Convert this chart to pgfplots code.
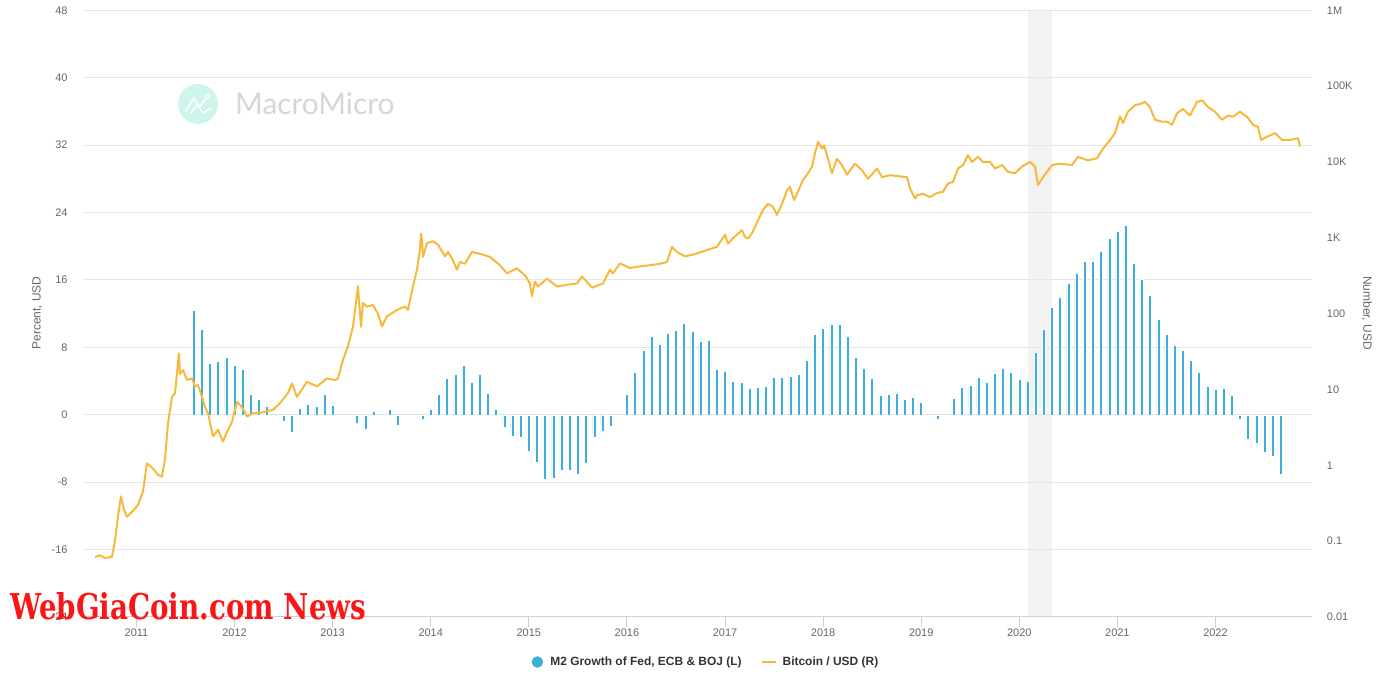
\documentclass[border=0pt]{standalone}
\usepackage{fontspec}
\setmainfont{Liberation Sans}
\newfontfamily\wmfont{Lato}
\newfontfamily\redfont[FakeStretch=0.78]{DejaVu Serif}
\usepackage{pgfplots}
\pgfplotsset{compat=1.18}

\definecolor{m2blue}{RGB}{59,174,218}
\definecolor{btc}{RGB}{246,185,59}
\definecolor{gridc}{RGB}{230,230,230}
\definecolor{axisc}{RGB}{208,208,208}
\definecolor{tickc}{RGB}{102,102,102}
\definecolor{legc}{RGB}{51,51,51}
\definecolor{bandc}{RGB}{242,242,242}
\definecolor{mmteal}{RGB}{205,245,236}
\definecolor{mmgray}{RGB}{214,214,214}
\definecolor{wgcred}{RGB}{250,22,22}

\pgfplotsset{
  base/.style={
    scale only axis, width=1228.7bp, height=606.7bp,
    at={(83bp,73bp)}, anchor=south west,
    xmin=2010.455, xmax=2022.981,
  },
}

\begin{document}
\begin{tikzpicture}
\useasboundingbox (0,0) rectangle (1400bp,690bp);

% watermark logo
\fill[mmteal] (198bp,586bp) circle (20bp);
\draw[white, line width=1.6bp, line join=round, line cap=round]
  (186bp,579bp) -- (194bp,592bp) -- (200bp,583bp) -- (206bp,592bp);
\draw[white, line width=1.6bp, line join=round, line cap=round]
  (191bp,577bp) -- (197bp,585bp) -- (203bp,577bp) -- (211bp,582bp);
\draw[white, line width=1.2bp] (207.5bp,593.5bp) circle (2bp);
\node[anchor=west, inner sep=0pt, text=mmgray, font=\wmfont\fontsize{30}{32}\selectfont]
  at (235bp,586bp) {MacroMicro};

% recession band
\begin{axis}[base, hide axis, ymin=-24, ymax=48]
\fill[bandc] (axis cs:2020.085,-24) rectangle (axis cs:2020.33,48);
\end{axis}

% M2 growth, left axis
\begin{axis}[base,
  ymin=-24, ymax=48,
  ytick={-24,-16,-8,0,8,16,24,32,40,48},
  yticklabels={-24,-16,-8,0,8,16,24,32,40,48},
  xtick={2011,2012,2013,2014,2015,2016,2017,2018,2019,2020,2021,2022},
  xticklabels={2011,2012,2013,2014,2015,2016,2017,2018,2019,2020,2021,2022},
  axis x line*=bottom, axis y line*=left,
  x axis line style={draw=axisc, line width=1bp, -},
  y axis line style={draw=none},
  ymajorgrids, grid style={draw=gridc, line width=1bp},
  xtick style={draw=axisc, line width=1bp},
  ytick style={draw=none},
  major tick length=10bp, tick align=outside,
  ticklabel style={font=\fontsize{11}{13}\selectfont, text=tickc},
  yticklabel style={anchor=east, inner sep=0pt, xshift=-5.3bp},
  xticklabel style={anchor=north, inner sep=0pt, yshift=-2bp},
]
\addplot[ybar, bar width=3bp, fill=m2blue, draw=white, line width=0.5bp] coordinates {
(2011.583,12.4)(2011.667,10.1)(2011.75,6.1)(2011.833,6.4)(2011.917,6.8)
(2012.0,5.9)(2012.083,5.4)(2012.167,2.4)(2012.25,1.9)(2012.333,1.0)(2012.417,0)
(2012.5,-0.8)(2012.583,-2.1)(2012.667,0.8)(2012.75,1.3)(2012.833,1.0)(2012.917,2.4)
(2013.0,1.1)(2013.083,0)(2013.167,-0.2)(2013.25,-1.0)(2013.333,-1.7)(2013.417,0.4)
(2013.5,0)(2013.583,0.6)(2013.667,-1.2)(2013.75,0)(2013.833,0)(2013.917,-0.5)
(2014.0,0.6)(2014.083,2.4)(2014.167,4.3)(2014.25,4.8)(2014.333,5.9)(2014.417,3.8)
(2014.5,4.8)(2014.583,2.5)(2014.667,0.6)(2014.75,-1.5)(2014.833,-2.6)(2014.917,-2.7)
(2015.0,-4.3)(2015.083,-5.6)(2015.167,-7.7)(2015.25,-7.5)(2015.333,-6.6)(2015.417,-6.6)
(2015.5,-7.0)(2015.583,-5.7)(2015.667,-2.7)(2015.75,-2.0)(2015.833,-1.4)(2015.917,0)
(2016.0,2.4)(2016.083,5.1)(2016.167,7.7)(2016.25,9.3)(2016.333,8.4)(2016.417,9.7)
(2016.5,10.0)(2016.583,10.9)(2016.667,9.9)(2016.75,8.7)(2016.833,8.8)(2016.917,5.4)
(2017.0,5.2)(2017.083,4.0)(2017.167,3.9)(2017.25,3.1)(2017.333,3.3)(2017.417,3.4)
(2017.5,4.4)(2017.583,4.5)(2017.667,4.6)(2017.75,4.8)(2017.833,6.5)(2017.917,9.5)
(2018.0,10.3)(2018.083,10.8)(2018.167,10.8)(2018.25,9.3)(2018.333,6.8)(2018.417,5.5)
(2018.5,4.3)(2018.583,2.3)(2018.667,2.4)(2018.75,2.6)(2018.833,1.9)(2018.917,2.1)
(2019.0,1.5)(2019.083,0)(2019.167,-0.5)(2019.25,0)(2019.333,2.0)(2019.417,3.3)
(2019.5,3.5)(2019.583,4.5)(2019.667,3.8)(2019.75,4.9)(2019.833,5.5)(2019.917,5.1)
(2020.0,4.2)(2020.083,4.0)(2020.167,7.4)(2020.25,10.1)(2020.333,12.7)(2020.417,14.0)
(2020.5,15.6)(2020.583,16.8)(2020.667,18.2)(2020.75,18.2)(2020.833,19.4)(2020.917,21.0)
(2021.0,21.8)(2021.083,22.5)(2021.167,18.0)(2021.25,16.1)(2021.333,14.2)(2021.417,11.3)
(2021.5,9.5)(2021.583,8.2)(2021.667,7.7)(2021.75,6.5)(2021.833,5.0)(2021.917,3.4)
(2022.0,3.0)(2022.083,3.2)(2022.167,2.3)(2022.25,-0.5)(2022.333,-2.9)(2022.417,-3.4)
(2022.5,-4.5)(2022.583,-4.9)(2022.667,-7.0)
};
\end{axis}

% Bitcoin, right log axis
\begin{axis}[base,
  ymode=log, ymin=0.01, ymax=1e6,
  axis x line=none, axis y line*=right,
  y axis line style={draw=none},
  ytick={0.01,0.1,1,10,100,1000,10000,100000,1000000},
  yticklabels={0.01,0.1,1,10,100,1K,10K,100K,1M},
  ytick style={draw=none}, yminorticks=false,
  ticklabel style={font=\fontsize{11}{13}\selectfont, text=tickc},
  yticklabel style={anchor=west, inner sep=0pt, xshift=15bp},
  legend style={at={(axis description cs:0.507,-0.0742)}, anchor=center,
    draw=none, fill=none, legend columns=2,
    font=\bfseries\fontsize{12}{14}\selectfont, text=legc,
    /tikz/every even column/.append style={column sep=17bp}},
]
\addlegendimage{m2blue, legend image code/.code={
  \fill (5.5bp,0bp) circle (5.5bp); \path[draw=none] (0bp,0bp) -- (16.5bp,0bp);}}
\addlegendentry{M2 Growth of Fed, ECB \& BOJ (L)}
\addplot[btc, line width=2bp, line join=round,
  legend image code/.code={\draw[line width=2bp] (0bp,0bp) -- (14bp,0bp);
  \path[draw=none] (0bp,0bp) -- (19bp,0bp);}] coordinates {
(2010.577,0.062)(2010.628,0.065)(2010.679,0.06)(2010.750,0.062)(2010.781,0.1)
(2010.811,0.21)(2010.842,0.39)(2010.873,0.26)(2010.903,0.21)(2010.964,0.25)
(2011.015,0.30)(2011.066,0.45)(2011.107,1.06)(2011.168,0.91)(2011.219,0.75)
(2011.260,0.71)(2011.291,1.2)(2011.321,3.5)(2011.362,8)(2011.393,8.9)
(2011.433,30)(2011.443,16)(2011.474,18)(2011.515,13.4)(2011.566,14)
(2011.596,11)(2011.627,11.5)(2011.668,8)(2011.698,5.9)(2011.729,4.9)
(2011.780,2.4)(2011.831,2.95)(2011.882,2.05)(2011.923,2.76)(2011.974,3.75)
(2012.025,6.9)(2012.086,5.6)(2012.127,4.4)(2012.188,4.85)(2012.290,5.0)
(2012.392,5.4)(2012.463,6.6)(2012.545,9)(2012.585,12)(2012.636,8)
(2012.738,12.6)(2012.840,11)(2012.942,14)(2013.024,13.3)(2013.054,14)
(2013.105,24.5)(2013.156,37)(2013.207,67)(2013.258,230)(2013.289,67)
(2013.309,138)(2013.350,124)(2013.411,130)(2013.462,100)(2013.503,68)
(2013.554,92)(2013.656,112)(2013.737,124)(2013.768,112)(2013.819,230)
(2013.860,380)(2013.890,700)(2013.900,1140)(2013.911,930)(2013.921,560)
(2013.962,850)(2014.023,900)(2014.074,810)(2014.145,570)(2014.176,650)
(2014.227,500)(2014.267,380)(2014.298,480)(2014.349,455)(2014.420,650)
(2014.502,615)(2014.604,560)(2014.706,435)(2014.777,340)(2014.879,395)
(2014.961,320)(2015.012,250)(2015.032,170)(2015.063,265)(2015.093,227)
(2015.185,290)(2015.287,228)(2015.389,240)(2015.491,250)(2015.542,310)
(2015.644,220)(2015.756,250)(2015.827,380)(2015.858,340)(2015.929,460)
(2016.031,400)(2016.133,420)(2016.235,435)(2016.337,455)(2016.408,480)
(2016.459,760)(2016.510,650)(2016.592,570)(2016.694,610)(2016.816,690)
(2016.918,760)(2017.000,1100)(2017.030,835)(2017.081,990)(2017.173,1260)
(2017.204,1020)(2017.234,980)(2017.275,1150)(2017.336,1700)(2017.387,2330)
(2017.438,2800)(2017.489,2560)(2017.530,2000)(2017.581,2800)(2017.632,4250)
(2017.662,4700)(2017.703,3150)(2017.744,4100)(2017.795,5800)(2017.846,7100)
(2017.887,8700)(2017.917,13000)(2017.948,18500)(2017.989,15000)(2018.009,16500)
(2018.040,12300)(2018.090,7100)(2018.141,11000)(2018.192,9100)(2018.243,6800)
(2018.325,9500)(2018.396,7800)(2018.458,6000)(2018.549,8200)(2018.600,6300)
(2018.682,6700)(2018.763,6500)(2018.855,6300)(2018.886,4500)(2018.937,3300)
(2018.957,3650)(2019.018,3800)(2019.090,3450)(2019.161,3900)(2019.222,4050)
(2019.273,5200)(2019.324,5450)(2019.375,8200)(2019.426,9100)(2019.477,12300)
(2019.518,10000)(2019.579,11700)(2019.630,10000)(2019.701,10000)(2019.752,8200)
(2019.824,9100)(2019.885,7400)(2019.956,7100)(2020.027,8700)(2020.109,10000)
(2020.160,8700)(2020.191,5000)(2020.242,6300)(2020.333,9100)(2020.415,9500)
(2020.537,9100)(2020.598,11700)(2020.700,10500)(2020.792,11200)(2020.853,15000)
(2020.925,19500)(2020.976,24000)(2021.027,40000)(2021.057,32500)(2021.108,46000)
(2021.179,56000)(2021.251,59000)(2021.281,62000)(2021.332,53000)(2021.383,36000)
(2021.455,34000)(2021.506,34000)(2021.557,31000)(2021.608,44000)(2021.669,50000)
(2021.740,41000)(2021.812,62000)(2021.863,65000)(2021.924,53000)(2021.995,46000)
(2022.066,36000)(2022.128,41000)(2022.179,39500)(2022.250,46000)(2022.321,39500)
(2022.382,31000)(2022.433,29000)(2022.464,19500)(2022.525,21500)(2022.607,24000)
(2022.678,19500)(2022.760,19500)(2022.841,20500)(2022.862,16000)
};
\addlegendentry{Bitcoin / USD (R)}
\end{axis}

% axis titles
\node[rotate=90, text=tickc, font=\fontsize{12}{14}\selectfont] at (37.3bp,377bp) {Percent, USD};
\node[rotate=-90, text=tickc, font=\fontsize{12}{14}\selectfont] at (1367bp,377bp) {Number, USD};

% overlay watermark
\node[anchor=base west, inner sep=0pt, text=wgcred, font=\redfont\bfseries\fontsize{35.7}{38}\selectfont]
  at (10bp,70.7bp) {WebGiaCoin.com News};
\end{tikzpicture}
\end{document}
